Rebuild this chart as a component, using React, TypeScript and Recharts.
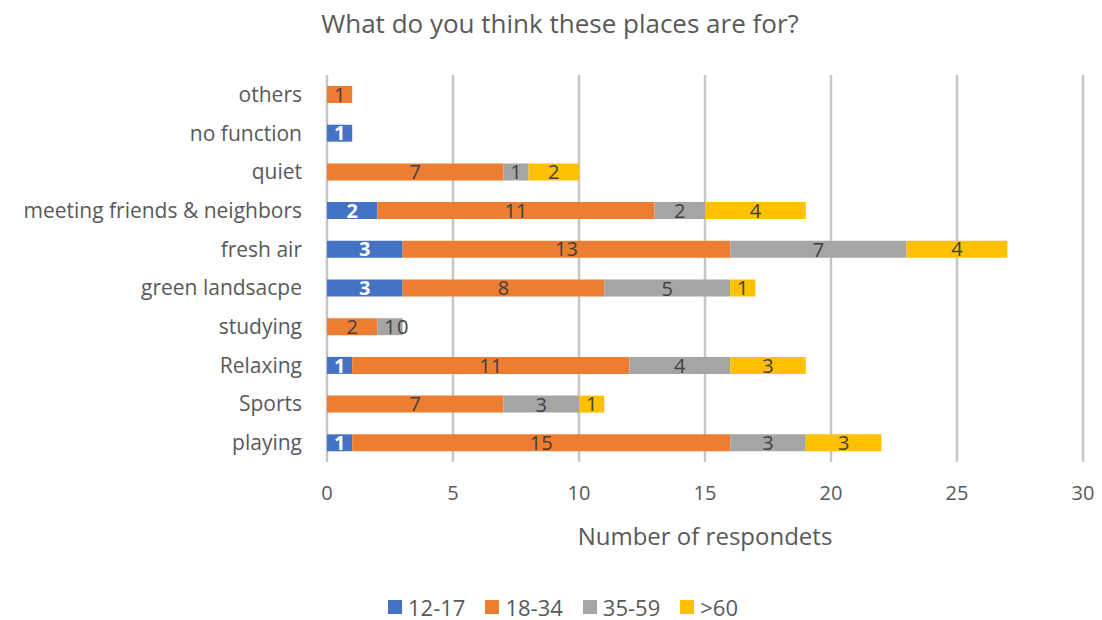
import { Bar, BarChart, CartesianGrid, LabelList, XAxis, YAxis, Label } from "recharts";

const categories = [
  "others",
  "no function",
  "quiet",
  "meeting friends & neighbors",
  "fresh air",
  "green landsacpe",
  "studying",
  "Relaxing",
  "Sports",
  "playing",
];

// null = no segment / no label; studying has an explicit 0 for >60
const age12to17 = [null, 1, null, 2, 3, 3, null, 1, null, 1];
const age18to34 = [1, null, 7, 11, 13, 8, 2, 11, 7, 15];
const age35to59 = [null, null, 1, 2, 7, 5, 1, 4, 3, 3];
const age60plus = [null, null, 2, 4, 4, 1, 0, 3, 1, 3];

const xTicks = [0, 5, 10, 15, 20, 25, 30];

const series = [
  { key: "a1", name: "12-17", color: "#4472C4", label: "#ffffff", values: age12to17 },
  { key: "a2", name: "18-34", color: "#ED7D31", label: "#404040", values: age18to34 },
  { key: "a3", name: "35-59", color: "#A5A5A5", label: "#404040", values: age35to59 },
  { key: "a4", name: ">60", color: "#FFC000", label: "#404040", values: age60plus },
];

const FONT = "'Open Sans', Lato, sans-serif";
const GREY = "#595959";
const LABEL_SIZE = 20;

// LabelList only walks the rows that have a grey segment
const greyRows = categories.map((_, i) => i).filter((i) => age35to59[i] != null);

// zero-width stacked segments get no label from recharts, so the grey
// series also prints the ">60" zero where that segment would sit
function greyLabel(props: any) {
  const { x, y, width, height, value, index } = props;
  if (value == null) return null;
  const cy = Number(y) + Number(height) / 2;
  const zeroAfter = age60plus[greyRows[index]] === 0;
  return (
    <g>
      <text
        x={Number(x) + Number(width) / 2}
        y={cy}
        textAnchor="middle"
        dominantBaseline="central"
        fontSize={LABEL_SIZE}
        fill="#404040"
      >
        {value}
      </text>
      {zeroAfter && (
        <text
          x={Number(x) + Number(width)}
          y={cy}
          textAnchor="middle"
          dominantBaseline="central"
          fontSize={LABEL_SIZE}
          fill="#404040"
        >
          0
        </text>
      )}
    </g>
  );
}

export default function App() {
  const data = categories.map((c, i) => {
    const row: Record<string, string | number | null> = { name: c };
    series.forEach((s) => (row[s.key] = s.values[i]));
    return row;
  });

  return (
    <div
      style={{
        position: "absolute",
        left: 0,
        top: 0,
        width: 1102,
        height: 620,
        background: "#fff",
        fontFamily: FONT,
        color: GREY,
      }}
    >
      <div
        style={{
          position: "absolute",
          top: 5,
          left: 0,
          width: 1102,
          boxSizing: "border-box",
          paddingLeft: 18,
          textAlign: "center",
          fontSize: 26,
        }}
      >
        What do you think these places are for?
      </div>
      <BarChart
        width={1102}
        height={620}
        data={data}
        layout="vertical"
        margin={{ top: 75, right: 19, bottom: 128, left: 0 }}
        barSize={17}
        style={{ fontFamily: FONT }}
      >
        <CartesianGrid horizontal={false} vertical stroke="#c6c6c6" strokeWidth={2.5} />
        <XAxis
          type="number"
          domain={[0, 30]}
          ticks={xTicks}
          axisLine={false}
          tickLine={false}
          tickMargin={18}
          tick={{ fontSize: 20, fill: GREY }}
        >
          <Label
            value="Number of respondets"
            position="insideBottom"
            offset={-53}
            style={{ fontSize: 24, fill: GREY }}
          />
        </XAxis>
        <YAxis
          type="category"
          dataKey="name"
          width={327}
          axisLine={false}
          tickLine={false}
          tickMargin={19}
          interval={0}
          tick={{ fontSize: 21, fill: GREY }}
        />
        {series.map((s) => (
          <Bar
            key={s.key}
            dataKey={s.key}
            name={s.name}
            stackId="a"
            fill={s.color}
            isAnimationActive={false}
          >
            {s.key === "a3" ? (
              <LabelList dataKey={s.key} content={greyLabel} />
            ) : (
              <LabelList
                dataKey={s.key}
                position="center"
                style={{
                  fontSize: LABEL_SIZE,
                  fill: s.label,
                  fontWeight: s.key === "a1" ? 700 : 400,
                }}
              />
            )}
          </Bar>
        ))}
      </BarChart>
      <div
        style={{
          position: "absolute",
          top: 594,
          left: 0,
          width: 1102,
          boxSizing: "border-box",
          paddingLeft: 24,
          display: "flex",
          justifyContent: "center",
          gap: 20,
          fontSize: 22,
          lineHeight: "26px",
        }}
      >
        {series.map((s) => (
          <div key={s.key} style={{ display: "flex", alignItems: "center", gap: 6 }}>
            <span style={{ width: 14, height: 14, background: s.color, display: "inline-block" }} />
            <span>{s.name}</span>
          </div>
        ))}
      </div>
    </div>
  );
}
